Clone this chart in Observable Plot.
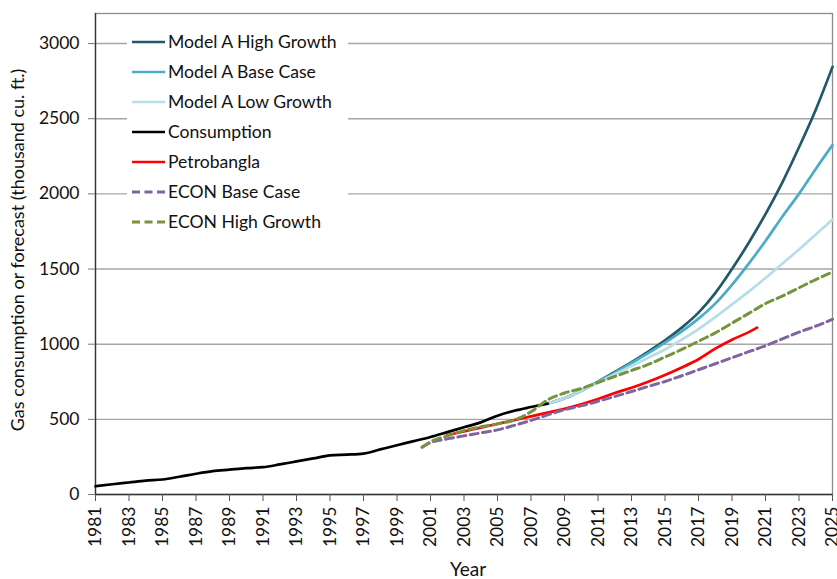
<!DOCTYPE html>
<html><head><meta charset="utf-8">
<script src="https://cdn.jsdelivr.net/npm/d3@7"></script>
<script src="https://cdn.jsdelivr.net/npm/@observablehq/plot@0.6"></script>
<style>
body{margin:0;background:#fff;}
#chart{width:837px;height:579px;}
#chart svg{font-family:Lato,"Open Sans",sans-serif;background:#fff;}
</style></head><body><div id="chart"></div>
<script>
// ---- data ----
const consYears = [1981,1982,1983,1984,1985,1986,1987,1988,1989,1990,1991,1992,1993,1994,1995,1996,1997,1998,1999,2000,2001,2002,2003,2004,2005,2006,2007,2008];
const consumption = [55,68,80,92,100,118,138,155,165,175,182,200,220,240,260,265,272,300,328,355,383,415,447,480,524,557,582,605];

const modelYears = [2008,2009,2010,2011,2012,2013,2014,2015,2016,2017,2018,2019,2020,2021,2022,2023,2024,2025];
const modelHigh = [605,640,690,750,815,880,950,1025,1110,1210,1340,1500,1675,1865,2075,2310,2560,2845];
const modelBase = [605,640,690,750,810,875,940,1010,1085,1170,1270,1395,1536,1687,1848,2000,2166,2325];
const modelLow  = [605,640,690,745,800,855,910,965,1030,1100,1180,1265,1350,1440,1535,1630,1730,1830];

const petroYears = [2002,2003,2004,2005,2006,2007,2008,2009,2010,2011,2012,2013,2014,2015,2016,2017,2018,2019,2020,2020.5];
const petrobangla = [395,420,445,470,495,520,545,570,600,635,675,710,750,795,845,900,970,1030,1080,1110];

const econYears = [2000.5,2001,2002,2003,2004,2005,2006,2007,2008,2009,2010,2011,2012,2013,2014,2015,2016,2017,2018,2019,2020,2021,2022,2023,2024,2025];
const econBase = [315,345,370,390,410,430,460,493,530,564,590,620,652,685,719,752,790,830,870,910,950,990,1035,1080,1120,1166];
const econHigh = [315,350,390,425,450,470,495,550,630,675,705,745,785,825,865,915,965,1020,1075,1140,1205,1270,1320,1375,1430,1480];

const xTicks = [1981,1983,1985,1987,1989,1991,1993,1995,1997,1999,2001,2003,2005,2007,2009,2011,2013,2015,2017,2019,2021,2023,2025];
const yTicks = [0,500,1000,1500,2000,2500,3000];

const seriesNames = ["Model A High Growth","Model A Base Case","Model A Low Growth","Consumption","Petrobangla","ECON Base Case","ECON High Growth"];
const seriesColors = ["#215968","#4BACC6","#B7DEE8","#000000","#FF0000","#8064A2","#77933C"];
const seriesDashed = [false,false,false,false,false,true,true];
const seriesYears = [modelYears,modelYears,modelYears,consYears,petroYears,econYears,econYears];
const seriesValues = [modelHigh,modelBase,modelLow,consumption,petrobangla,econBase,econHigh];

// ---- build ----
const lineMarks = seriesNames.map((name,i) => {
  const rows = seriesYears[i].map((y,j) => ({year:y, value:seriesValues[i][j]}));
  return Plot.line(rows, {x:"year", y:"value", stroke:seriesColors[i], strokeWidth: seriesDashed[i] ? 3 : 2.7,
    strokeDasharray: seriesDashed[i] ? "8,4.5" : null, curve:"monotone-x"});
});

const plot = Plot.plot({
  width:837, height:579,
  marginLeft:95, marginRight:5, marginTop:13, marginBottom:85,
  style:{fontSize:"17px", color:"#111"},
  x:{domain:[1981,2025], label:null},
  y:{domain:[0,3200], label:null},
  marks:[
    Plot.gridY(yTicks.filter(d=>d>0), {stroke:"#a6a6a6", strokeOpacity:1, strokeWidth:1.4}),
    Plot.frame({stroke:"#8c8c8c", strokeWidth:1.3}),
    Plot.ruleX([1981], {stroke:"#333", strokeWidth:1.3}),
    Plot.ruleY([0], {stroke:"#333", strokeWidth:1.3}),
    Plot.axisY(yTicks, {tickSize:7, tickPadding:9, label:null, stroke:"#777", fontSize:17.5, tickFormat:d=>String(d)}),
    Plot.axisX(xTicks, {tickSize:7, tickPadding:5, tickRotate:-90, tickFormat:d=>String(d), label:null, stroke:"#555", fontSize:17.5}),
    ...lineMarks
  ]
});
document.getElementById("chart").appendChild(plot);

const svg = d3.select(plot);
// axis titles
svg.append("text").attr("transform","translate(24,250) rotate(-90)").attr("text-anchor","middle")
  .attr("font-size","18px").attr("fill","#111").text("Gas consumption or forecast (thousand cu. ft.)");
svg.append("text").attr("x",468).attr("y",576).attr("text-anchor","middle")
  .attr("font-size","19px").attr("fill","#111").text("Year");

// legend
const lg = svg.append("g").attr("text-anchor","start");
lg.append("rect").attr("x",127).attr("y",27).attr("width",221).attr("height",210).attr("fill","#fff");
seriesNames.forEach((name,i) => {
  const cy = 42 + i*30;
  lg.append("line").attr("x1",132).attr("x2",165).attr("y1",cy).attr("y2",cy)
    .attr("stroke",seriesColors[i]).attr("stroke-width",seriesDashed[i] ? 3 : 2.7)
    .attr("stroke-dasharray", seriesDashed[i] ? "8,4.5" : null);
  lg.append("text").attr("x",168).attr("y",cy).attr("dy","0.36em").attr("text-anchor","start")
    .attr("font-size","17.6px").attr("fill","#111").text(name);
});
</script></body></html>
